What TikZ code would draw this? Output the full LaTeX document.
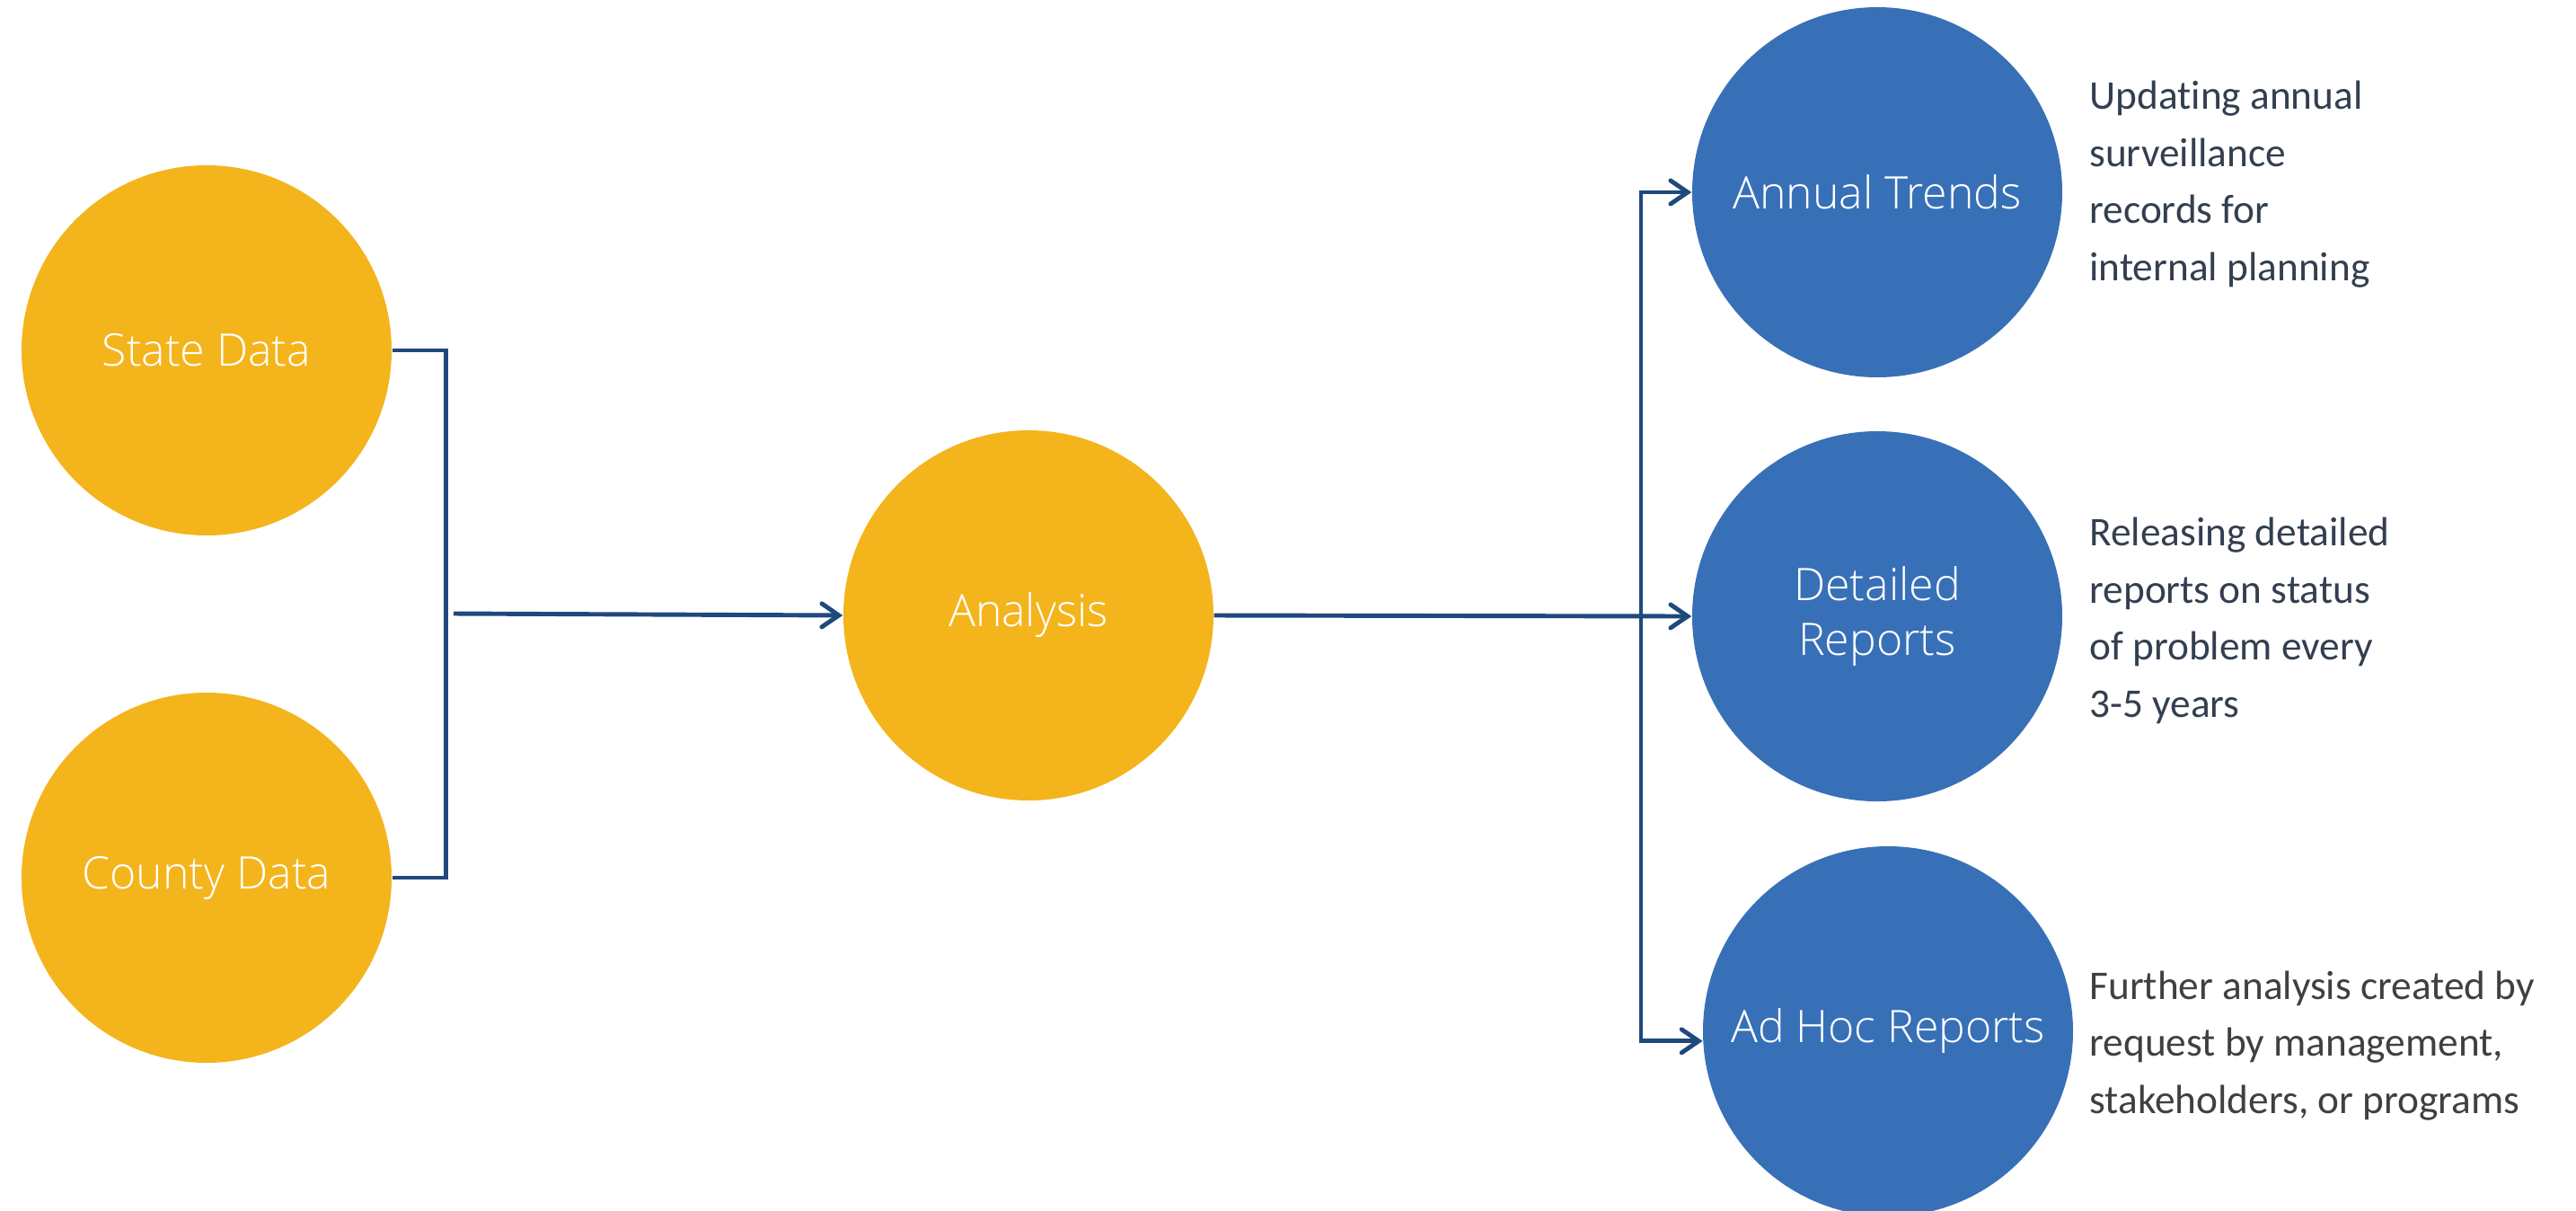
\documentclass[tikz,border=0pt]{standalone}
\usepackage{fontspec}
\setmainfont{Carlito}[Ligatures=NoCommon]
\newfontfamily\circfont{Open Sans Light}
\usepackage{xcolor}
\usepackage{tikz}
\usetikzlibrary{positioning, arrows.meta, calc}

\definecolor{flowgold}{HTML}{F4B41C}
\definecolor{flowblue}{HTML}{3870B7}
\definecolor{flowline}{HTML}{1F497D}
\definecolor{slatetext}{HTML}{333F50}
\definecolor{greytext}{HTML}{404040}

\begin{document}
\begin{tikzpicture}[
      source/.style={circle, fill=flowgold, minimum size=4.12cm, inner sep=0pt, text=white, align=center,
        font=\circfont\fontsize{14.2}{17.6}\selectfont},
      output/.style={source, fill=flowblue},
      note/.style={inner sep=0pt, align=left, text=slatetext, font=\fontsize{12.9}{18.1}\selectfont},
      link/.style={draw=flowline, line width=1.4pt},
      arrow/.style={link, -{Straight Barb[length=1.9mm, width=2.6mm, line cap=round]}}
    ]
    \useasboundingbox (0,0) rectangle (28.68,-13.47);

    \node[source] (state) at (2.30,-3.90) {State Data};
    \node[source] (county) at (2.30,-9.77) {County Data};
    \node[source] (analysis) at (11.45,-6.85) {Analysis};
    \node[output] (annual) at (20.90,-2.14) {Annual Trends};
    \node[output] (detailed) at (20.90,-6.86) {Detailed\\Reports};
    \node[output] (adhoc) at (21.02,-11.48) {Ad Hoc Reports};

    \node[note, right=0.29cm of annual, yshift=0.09cm] (annualnote)
      {Updating annual\\surveillance\\records for\\internal planning};
    \node[note, right=0.29cm of detailed, yshift=-0.05cm] (detailednote)
      {Releasing detailed\\reports on status\\of problem every\\3-5 years};
    \node[note, right=0.17cm of adhoc, yshift=-0.16cm, text=greytext] (adhocnote)
      {Further analysis created by\\request by management,\\stakeholders, or programs};

    % bracket joining the two data sources
    \draw[link] (state.east) -- ++(0.6,0) |- (county.east);
    \coordinate (merge) at (5.05,-6.83);
    \draw[arrow] (merge) -- (analysis.west);

    % fan out to the outputs
    \draw[arrow] (analysis.east) -- (detailed.west);
    \coordinate (split) at (18.27,-6.86);
    \draw[arrow] (split) |- (annual.west);
    \draw[arrow] (split) |- (adhoc.183);
  \end{tikzpicture}
\end{document}
